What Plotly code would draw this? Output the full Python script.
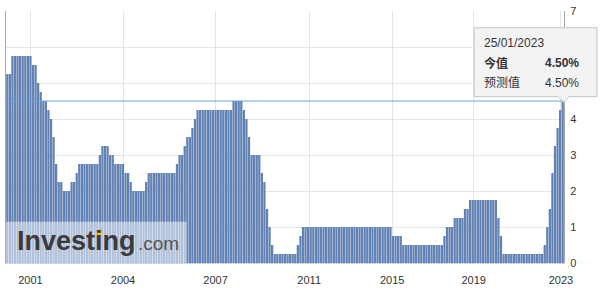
import plotly.graph_objects as go

# Bank of Canada overnight rate (%) – one bar per data point, oldest first
rates = [
    5.25, 5.25,
    5.75, 5.75, 5.75, 5.75, 5.75, 5.75, 5.75, 5.75,
    5.5, 5.5, 5.0, 4.75, 4.5, 4.5, 4.25, 4.0, 3.5, 2.75, 2.25, 2.25,
    2.0, 2.0, 2.0, 2.25, 2.25, 2.5,
    2.75, 2.75, 2.75, 2.75, 2.75, 2.75, 2.75, 2.75,
    3.0, 3.25, 3.25, 3.25, 3.0, 3.0,
    2.75, 2.75, 2.75, 2.75, 2.5, 2.5, 2.25,
    2.0, 2.0, 2.0, 2.0, 2.0, 2.25,
    2.5, 2.5, 2.5, 2.5, 2.5, 2.5, 2.5, 2.5, 2.5, 2.5, 2.5,
    2.75, 3.0, 3.0, 3.25, 3.5, 3.5, 3.75, 4.0,
    4.25, 4.25, 4.25, 4.25, 4.25, 4.25, 4.25, 4.25, 4.25, 4.25, 4.25, 4.25, 4.25, 4.25,
    4.5, 4.5, 4.5, 4.5, 4.25, 4.0, 3.5,
    3.0, 3.0, 3.0, 3.0, 2.5, 2.25, 1.5, 1.0, 0.5,
    0.25, 0.25, 0.25, 0.25, 0.25, 0.25, 0.25, 0.25, 0.25,
    0.5, 0.75,
    1.0, 1.0, 1.0, 1.0, 1.0, 1.0, 1.0, 1.0, 1.0, 1.0,
    1.0, 1.0, 1.0, 1.0, 1.0, 1.0, 1.0, 1.0, 1.0, 1.0,
    1.0, 1.0, 1.0, 1.0, 1.0, 1.0, 1.0, 1.0, 1.0, 1.0,
    1.0, 1.0, 1.0, 1.0, 1.0,
    0.75, 0.75, 0.75, 0.75,
    0.5, 0.5, 0.5, 0.5, 0.5, 0.5, 0.5, 0.5,
    0.5, 0.5, 0.5, 0.5, 0.5, 0.5, 0.5, 0.5,
    0.75, 1.0, 1.0, 1.0, 1.25, 1.25, 1.25, 1.25, 1.5, 1.5,
    1.75, 1.75, 1.75, 1.75, 1.75, 1.75, 1.75, 1.75, 1.75, 1.75, 1.75,
    1.25, 0.75,
    0.25, 0.25, 0.25, 0.25, 0.25, 0.25, 0.25, 0.25,
    0.25, 0.25, 0.25, 0.25, 0.25, 0.25, 0.25, 0.25,
    0.5, 1.0, 1.5, 2.5, 3.25, 3.75, 4.25, 4.5,
]

# x-axis year labels and their (ordinal) positions along the bar sequence
year_labels = ["2001", "2004", "2007", "2011", "2015", "2019", "2023"]
year_positions = [9, 45, 81, 117.4, 149.7, 181.4, 215.3]

# y-axis ticks (labels 5 and 6 are hidden behind the tooltip in the reference)
y_ticks = [0, 1, 2, 3, 4, 5, 6, 7]
y_labels = ["0", "1", "2", "3", "4", "", "", "7"]

current_value = 4.50
tooltip_date = "25/01/2023"
tooltip_actual = "4.50%"
tooltip_forecast = "4.50%"

W, H = 604, 299
ML, MR, MT, MB = 5, 40, 7, 36
PW, PH = W - ML - MR, H - MT - MB


def px(x):
    return (x - ML) / PW


def py(y):
    return (H - MB - y) / PH


BAR = "#6382b4"
FONT = "Liberation Sans, Arial, Noto Sans CJK SC, sans-serif"

fig = go.Figure()
fig.add_trace(go.Bar(
    x=list(range(len(rates))),
    y=rates,
    marker=dict(color=BAR, line=dict(width=0)),
    hoverinfo="skip",
))

shapes = []
# current value line
shapes.append(dict(type="line", xref="paper", yref="y", x0=0, x1=1,
                   y0=current_value, y1=current_value,
                   line=dict(color="#6fa0d8", width=1), layer="above"))
# watermark veil
shapes.append(dict(type="rect", xref="paper", yref="paper",
                   x0=0, x1=px(186), y0=0, y1=py(221),
                   fillcolor="rgba(255,255,255,0.5)", line=dict(width=0),
                   layer="above"))
# watermark accent on the i
shapes.append(dict(type="path", xref="paper", yref="paper",
                   path=(f"M {px(94.5)} {py(236)} L {px(99.5)} {py(236)} "
                         f"L {px(101.5)} {py(229)} L {px(96.5)} {py(229)} Z"),
                   fillcolor="#f0b528", line=dict(width=0), layer="above"))
# tooltip box with pointer
tl, tr, tt, tb = 474, 597, 24, 94
path = (f"M {px(tl)} {py(tt)} L {px(tr)} {py(tt)} L {px(tr)} {py(tb)} "
        f"L {px(569)} {py(tb)} L {px(564)} {py(100)} L {px(558)} {py(tb)} "
        f"L {px(tl)} {py(tb)} Z")
shapes.append(dict(type="path", xref="paper", yref="paper", path=path,
                   fillcolor="rgba(243,243,243,0.97)",
                   line=dict(color="#c4c4c4", width=1), layer="above"))

annotations = [
    dict(text="<b>Investing</b>", x=px(14), y=py(241), xref="paper", yref="paper",
         xanchor="left", yanchor="middle", showarrow=False,
         font=dict(family=FONT, size=27, color="#3b3b3b")),
    dict(text=".com", x=px(135), y=py(243.5), xref="paper", yref="paper",
         xanchor="left", yanchor="middle", showarrow=False,
         font=dict(family=FONT, size=19, color="#555555")),
    dict(text=tooltip_date, x=px(482), y=py(40), xref="paper", yref="paper",
         xanchor="left", yanchor="middle", showarrow=False,
         font=dict(family=FONT, size=12, color="#333333")),
    dict(text="<b>今值</b>", x=px(482), y=py(60), xref="paper", yref="paper",
         xanchor="left", yanchor="middle", showarrow=False,
         font=dict(family=FONT, size=12, color="#333333")),
    dict(text=f"<b>{tooltip_actual}</b>", x=px(581), y=py(60), xref="paper", yref="paper",
         xanchor="right", yanchor="middle", showarrow=False,
         font=dict(family=FONT, size=12, color="#333333")),
    dict(text="预测值", x=px(482), y=py(80), xref="paper", yref="paper",
         xanchor="left", yanchor="middle", showarrow=False,
         font=dict(family=FONT, size=12, color="#333333")),
    dict(text=tooltip_forecast, x=px(581), y=py(80), xref="paper", yref="paper",
         xanchor="right", yanchor="middle", showarrow=False,
         font=dict(family=FONT, size=12, color="#333333")),
]

fig.update_layout(
    width=W, height=H,
    margin=dict(l=ML, r=MR, t=MT, b=MB, pad=0),
    paper_bgcolor="white", plot_bgcolor="white",
    showlegend=False,
    bargap=0.12,
    font=dict(family=FONT, size=11, color="#333333"),
    shapes=shapes,
    annotations=annotations,
    xaxis=dict(
        type="linear", range=[-0.5, len(rates) - 0.5],
        tickmode="array", tickvals=year_positions, ticktext=year_labels,
        showgrid=True, gridcolor="#e6e6e6", gridwidth=1,
        showline=True, linecolor="#ccd6eb", linewidth=1,
        ticks="outside", ticklen=7, tickcolor="rgba(0,0,0,0)",
        zeroline=False, fixedrange=True,
        tickfont=dict(size=11, color="#333333"),
    ),
    yaxis=dict(
        range=[0, 7], tickmode="array", tickvals=y_ticks, ticktext=y_labels,
        side="right",
        showgrid=True, gridcolor="#e6e6e6", gridwidth=1,
        showline=True, mirror=True, linecolor="#a8a8a8", linewidth=1,
        ticks="outside", ticklen=3, tickcolor="rgba(0,0,0,0)",
        zeroline=False, fixedrange=True,
        tickfont=dict(size=11, color="#333333"),
    ),
)

fig.write_html("out.html")
